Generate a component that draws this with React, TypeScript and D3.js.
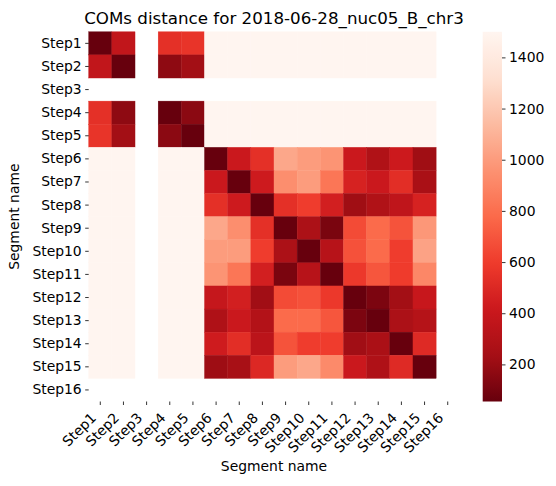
import React, { useEffect, useRef } from 'react';
import * as d3 from 'd3';

const segments = ['Step1', 'Step2', 'Step3', 'Step4', 'Step5', 'Step6', 'Step7', 'Step8',
    'Step9', 'Step10', 'Step11', 'Step12', 'Step13', 'Step14', 'Step15', 'Step16'];

// pairwise COM distances, null = missing segment
const N = null;
const distances: (number | null)[][] = [
    [55, 370, N, 540, 560, 1500, 1500, 1500, 1500, 1500, 1500, 1500, 1500, 1500, 1500, N],
    [370, 55, N, 170, 230, 1500, 1500, 1500, 1500, 1500, 1500, 1500, 1500, 1500, 1500, N],
    [N, N, N, N, N, N, N, N, N, N, N, N, N, N, N, N],
    [540, 170, N, 55, 160, 1500, 1500, 1500, 1500, 1500, 1500, 1500, 1500, 1500, 1500, N],
    [560, 230, N, 160, 55, 1500, 1500, 1500, 1500, 1500, 1500, 1500, 1500, 1500, 1500, N],
    [1500, 1500, N, 1500, 1500, 55, 410, 540, 1050, 1000, 965, 410, 290, 420, 220, N],
    [1500, 1500, N, 1500, 1500, 410, 55, 425, 940, 1000, 830, 470, 410, 530, 260, N],
    [1500, 1500, N, 1500, 1500, 540, 425, 55, 540, 600, 450, 220, 290, 360, 470, N],
    [1500, 1500, N, 1500, 1500, 1050, 940, 540, 55, 270, 110, 660, 780, 690, 980, N],
    [1500, 1500, N, 1500, 1500, 1000, 1000, 600, 270, 55, 320, 680, 780, 600, 1030, N],
    [1500, 1500, N, 1500, 1500, 965, 830, 450, 110, 320, 55, 580, 700, 595, 910, N],
    [1500, 1500, N, 1500, 1500, 390, 450, 225, 660, 680, 580, 55, 115, 230, 395, N],
    [1500, 1500, N, 1500, 1500, 285, 410, 300, 780, 780, 700, 115, 55, 270, 310, N],
    [1500, 1500, N, 1500, 1500, 430, 530, 340, 690, 600, 600, 225, 265, 55, 510, N],
    [1500, 1500, N, 1500, 1500, 215, 250, 500, 1000, 1050, 920, 410, 285, 510, 55, N],
    [N, N, N, N, N, N, N, N, N, N, N, N, N, N, N, N],
];

const colorbarTicks = [200, 400, 600, 800, 1000, 1200, 1400];

// matplotlib "Reds" control points, used reversed
const redsStops = ['#fff5f0', '#fee0d2', '#fcbba1', '#fc9272', '#fb6a4a', '#ef3b2c', '#cb181d', '#a50f15', '#67000d'];

const FONT = 'DejaVu Sans, sans-serif';

const DistanceHeatmap: React.FC = () => {
    const svgRef = useRef<SVGSVGElement>(null);

    useEffect(() => {
        if (!svgRef.current) return;
        const svg = d3.select(svgRef.current);
        svg.selectAll('*').remove();

        const width = 556;
        const height = 486;
        const plot = { left: 88.7, right: 459.3, top: 31.8, bottom: 401.5 };
        const cbar = { left: 482.7, right: 502, top: 31.8, bottom: 401.5 };

        const flat = distances.flat().filter((v): v is number => v !== null);
        const vmin = d3.min(flat)!;
        const vmax = d3.max(flat)!;

        const redsScale = d3.scaleLinear<string>()
            .domain(d3.range(redsStops.length).map(i => i / (redsStops.length - 1)))
            .range(redsStops)
            .interpolate(d3.interpolateRgb);
        const color = (v: number) => redsScale(1 - (v - vmin) / (vmax - vmin));

        const x = d3.scaleBand().domain(segments).range([plot.left, plot.right]);
        const y = d3.scaleBand().domain(segments).range([plot.top, plot.bottom]);

        svg.attr('width', width).attr('height', height);
        svg.append('rect').attr('width', width).attr('height', height).attr('fill', 'white');

        // Cells
        const cells = distances.flatMap((row, i) =>
            row.map((v, j) => ({ row: segments[i], col: segments[j], v }))
        ).filter(d => d.v !== null);

        svg.append('g')
            .selectAll('rect')
            .data(cells)
            .join('rect')
            .attr('x', d => x(d.col)!)
            .attr('y', d => y(d.row)!)
            .attr('width', x.bandwidth())
            .attr('height', y.bandwidth())
            .attr('fill', d => color(d.v as number))
            .attr('stroke', d => color(d.v as number))
            .attr('stroke-width', 0.4);

        // X axis, labels rotated and right-aligned under each tick
        const xAxis = svg.append('g')
            .attr('transform', `translate(0,${plot.bottom})`)
            .call(d3.axisBottom(x).tickSize(3.5).tickPadding(3.5));
        xAxis.select('.domain').remove();
        xAxis.selectAll('line').attr('stroke', 'black').attr('stroke-width', 0.8);
        xAxis.selectAll('text')
            .attr('font-family', FONT)
            .attr('font-size', '13.9px')
            .attr('fill', 'black')
            .attr('text-anchor', 'end')
            .attr('dy', '0.78em')
            .attr('x', -11)
            .attr('y', 9.5)
            .attr('transform', 'rotate(-45 -11 9.5)');

        // Y axis
        const yAxis = svg.append('g')
            .attr('transform', `translate(${plot.left},0)`)
            .call(d3.axisLeft(y).tickSize(3.5).tickPadding(3.5));
        yAxis.select('.domain').remove();
        yAxis.selectAll('line').attr('stroke', 'black').attr('stroke-width', 0.8);
        yAxis.selectAll('text')
            .attr('font-family', FONT)
            .attr('font-size', '13.9px')
            .attr('fill', 'black');

        // Axis labels and title
        svg.append('text')
            .attr('x', (plot.left + plot.right) / 2)
            .attr('y', 471)
            .attr('text-anchor', 'middle')
            .attr('font-family', FONT)
            .attr('font-size', '13.9px')
            .text('Segment name');

        svg.append('text')
            .attr('transform', `translate(19,${(plot.top + plot.bottom) / 2}) rotate(-90)`)
            .attr('text-anchor', 'middle')
            .attr('font-family', FONT)
            .attr('font-size', '13.9px')
            .text('Segment name');

        svg.append('text')
            .attr('x', (plot.left + plot.right) / 2)
            .attr('y', 23.5)
            .attr('text-anchor', 'middle')
            .attr('font-family', FONT)
            .attr('font-size', '16.7px')
            .text('COMs distance for 2018-06-28_nuc05_B_chr3');

        // Colorbar
        const cy = d3.scaleLinear().domain([vmin, vmax]).range([cbar.bottom, cbar.top]);
        const grad = svg.append('defs').append('linearGradient')
            .attr('id', 'cbar-grad')
            .attr('x1', 0).attr('y1', 1).attr('x2', 0).attr('y2', 0);
        grad.selectAll('stop')
            .data(d3.range(0, 1.0001, 0.02))
            .join('stop')
            .attr('offset', d => `${d * 100}%`)
            .attr('stop-color', d => color(vmin + d * (vmax - vmin)));

        svg.append('rect')
            .attr('x', cbar.left)
            .attr('y', cbar.top)
            .attr('width', cbar.right - cbar.left)
            .attr('height', cbar.bottom - cbar.top)
            .attr('fill', 'url(#cbar-grad)');

        const cAxis = svg.append('g')
            .attr('transform', `translate(${cbar.right},0)`)
            .call(d3.axisRight(cy).tickValues(colorbarTicks).tickSize(3.5).tickPadding(3.5).tickFormat(d3.format('d')));
        cAxis.select('.domain').remove();
        cAxis.selectAll('line').attr('stroke', 'black').attr('stroke-width', 0.8);
        cAxis.selectAll('text')
            .attr('font-family', FONT)
            .attr('font-size', '13.9px')
            .attr('fill', 'black');
    }, []);

    return <svg ref={svgRef} style={{ position: 'absolute', left: 0, top: 0 }} />;
};

export default function App() {
    return <DistanceHeatmap />;
}
